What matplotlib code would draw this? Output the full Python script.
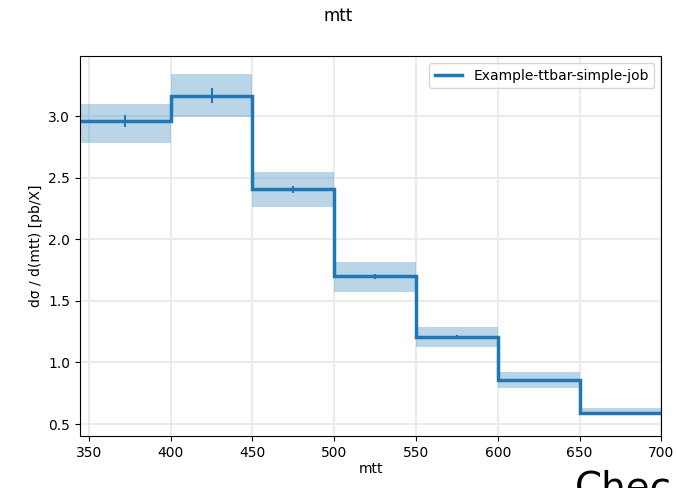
import numpy as np
import matplotlib
matplotlib.use("Agg")
import matplotlib.pyplot as plt

edges = [344.5, 400, 450, 500, 550, 600, 650, 700]
values = [2.96, 3.165, 2.405, 1.70, 1.205, 0.855, 0.59]
band_lo = [2.78, 2.995, 2.26, 1.57, 1.125, 0.79, 0.57]
band_hi = [3.10, 3.34, 2.55, 1.815, 1.29, 0.92, 0.63]
stat_err = [0.05, 0.06, 0.03, 0.02, 0.015, 0.012, 0.01]
label = "Example-ttbar-simple-job"

fig = plt.figure(figsize=(6.77, 4.88), dpi=100)
ax = fig.add_axes([0.118, 0.107, 0.859, 0.778])

color = "#1f77b4"
ax.stairs(band_hi, edges, baseline=band_lo, fill=True, color=color, alpha=0.3, lw=0)
ax.stairs(values, edges, baseline=None, color=color, lw=2.5, label=label)
centers = 0.5 * (np.array(edges[:-1]) + np.array(edges[1:]))
ax.errorbar(centers, values, yerr=stat_err, fmt="none", ecolor=color, elinewidth=1.5)

ax.set_xlim(344.5, 700)
ax.set_ylim(0.405, 3.487)
ax.set_xticks([350, 400, 450, 500, 550, 600, 650, 700])
ax.set_yticks([0.5, 1.0, 1.5, 2.0, 2.5, 3.0])
ax.grid(True, color="#ebebeb", lw=1.5)
ax.set_axisbelow(True)
ax.set_xlabel("mtt", labelpad=2)
ax.set_ylabel("dσ / d(mtt) [pb/X]")
fig.suptitle("mtt", y=0.985, fontsize=12)
ax.legend(loc="upper right")

# partly hidden text from below the chart, cut off as in the reference
fig.text(0.849, 0.037, "Chec", fontsize=28, va="top", ha="left", color="black")

fig.savefig("out.png", dpi=100)
